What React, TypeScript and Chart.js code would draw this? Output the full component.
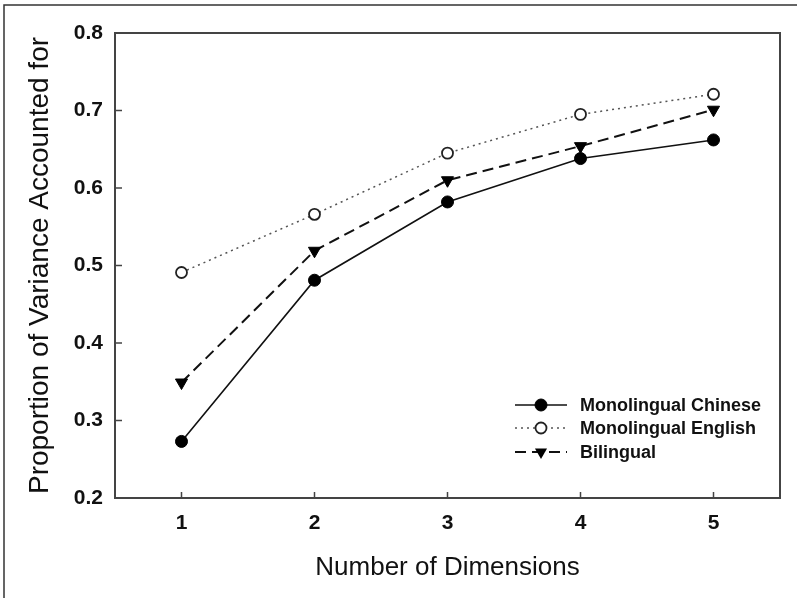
import React, { useEffect, useRef } from "react";
import { Chart, registerables } from "chart.js";

Chart.register(...registerables);

const dimensions = [1, 2, 3, 4, 5];
const monoChinese = [0.273, 0.481, 0.582, 0.638, 0.662];
const monoEnglish = [0.491, 0.566, 0.645, 0.695, 0.721];
const bilingual = [0.349, 0.519, 0.61, 0.654, 0.701];
const yTicks = [0.2, 0.3, 0.4, 0.5, 0.6, 0.7, 0.8];
const seriesNames = ["Monolingual Chinese", "Monolingual English", "Bilingual"];

const FONT = "Arial, 'Liberation Sans', sans-serif";

const framePlugin = {
  id: "frame",
  beforeDraw(chart: any) {
    const { ctx, width, height } = chart;
    ctx.save();
    ctx.fillStyle = "#ffffff";
    ctx.fillRect(0, 0, width, height);
    ctx.strokeStyle = "#333333";
    ctx.lineWidth = 1.5;
    ctx.beginPath();
    ctx.moveTo(4, height);
    ctx.lineTo(4, 5);
    ctx.lineTo(width, 5);
    ctx.stroke();
    ctx.restore();
  },
  afterDatasetsDraw(chart: any) {
    const { ctx, chartArea } = chart;
    const { left, right, top, bottom } = chartArea;
    const xs = chart.scales.x;
    const ys = chart.scales.y;
    ctx.save();
    ctx.strokeStyle = "#444444";
    ctx.lineWidth = 2;
    ctx.strokeRect(left, top, right - left, bottom - top);
    ctx.lineWidth = 1.5;
    ctx.beginPath();
    dimensions.forEach((d) => {
      const px = xs.getPixelForValue(d);
      ctx.moveTo(px, bottom);
      ctx.lineTo(px, bottom - 6);
    });
    yTicks.forEach((v) => {
      const py = ys.getPixelForValue(v);
      ctx.moveTo(left, py);
      ctx.lineTo(left + 7, py);
    });
    ctx.stroke();
    ctx.restore();
  },
  afterDraw(chart: any) {
    const { ctx } = chart;
    const rows = [405, 428, 452];
    const x0 = 515;
    const x1 = 567;
    const mx = 541;
    ctx.save();
    chart.data.datasets.forEach((ds: any, i: number) => {
      const y = rows[i];
      ctx.strokeStyle = ds.borderColor;
      ctx.lineWidth = ds.borderWidth;
      ctx.setLineDash(ds.borderDash || []);
      ctx.beginPath();
      ctx.moveTo(x0, y);
      ctx.lineTo(x1, y);
      ctx.stroke();
      ctx.setLineDash([]);
      ctx.beginPath();
      if (ds.pointStyle === "triangle") {
        const r = ds.pointRadius;
        ctx.moveTo(mx - r * 0.866, y - r * 0.5);
        ctx.lineTo(mx + r * 0.866, y - r * 0.5);
        ctx.lineTo(mx, y + r);
        ctx.closePath();
        ctx.fillStyle = ds.pointBackgroundColor;
        ctx.fill();
      } else {
        ctx.arc(mx, y, ds.pointRadius, 0, Math.PI * 2);
        ctx.fillStyle = ds.pointBackgroundColor;
        ctx.fill();
        ctx.strokeStyle = ds.pointBorderColor;
        ctx.lineWidth = ds.pointBorderWidth;
        ctx.stroke();
      }
      ctx.fillStyle = "#111111";
      ctx.font = `bold 18px ${FONT}`;
      ctx.textAlign = "left";
      ctx.textBaseline = "middle";
      ctx.fillText(seriesNames[i], 580, y + 1);
    });
    ctx.restore();
  },
};

export default function App() {
  const ref = useRef<HTMLCanvasElement>(null);
  useEffect(() => {
    document.body.style.margin = "0";
    const canvas = ref.current!;
    const toPts = (arr: number[]) => dimensions.map((d, i) => ({ x: d, y: arr[i] }));
    const chart = new Chart(canvas, {
      type: "line",
      data: {
        datasets: [
          {
            label: seriesNames[0],
            data: toPts(monoChinese),
            borderColor: "#111111",
            borderWidth: 1.6,
            pointStyle: "circle",
            pointRadius: 6,
            pointBackgroundColor: "#000000",
            pointBorderColor: "#000000",
            pointBorderWidth: 1,
          },
          {
            label: seriesNames[1],
            data: toPts(monoEnglish),
            borderColor: "#555555",
            borderWidth: 1.5,
            borderDash: [2, 4],
            pointStyle: "circle",
            pointRadius: 5.5,
            pointBackgroundColor: "#ffffff",
            pointBorderColor: "#222222",
            pointBorderWidth: 1.8,
          },
          {
            label: seriesNames[2],
            data: toPts(bilingual),
            borderColor: "#111111",
            borderWidth: 2,
            borderDash: [11, 6],
            pointStyle: "triangle",
            rotation: 180,
            pointRadius: 7,
            pointBackgroundColor: "#000000",
            pointBorderColor: "#000000",
            pointBorderWidth: 1,
          } as any,
        ],
      },
      options: {
        responsive: false,
        animation: false,
        layout: { padding: { top: 33, right: 17, left: 0, bottom: 0 } },
        plugins: {
          legend: { display: false },
          tooltip: { enabled: false },
        },
        scales: {
          x: {
            type: "linear",
            min: 0.5,
            max: 5.5,
            grid: { display: false, drawTicks: false },
            border: { display: false },
            afterBuildTicks: (s: any) => {
              s.ticks = dimensions.map((v) => ({ value: v }));
            },
            afterFit: (s: any) => {
              s.height = 100;
            },
            ticks: {
              padding: 13,
              color: "#111111",
              font: { family: FONT, size: 21, weight: "bold" },
              callback: (v: any) => String(v),
            },
            title: {
              display: true,
              text: "Number of Dimensions",
              color: "#111111",
              font: { family: FONT, size: 26, weight: "normal" },
              padding: { top: 0, bottom: 15 },
            },
          },
          y: {
            type: "linear",
            min: 0.2,
            max: 0.8,
            grid: { display: false, drawTicks: false },
            border: { display: false },
            afterBuildTicks: (s: any) => {
              s.ticks = yTicks.map((v) => ({ value: v }));
            },
            afterFit: (s: any) => {
              s.width = 115;
            },
            ticks: {
              padding: 12,
              color: "#111111",
              font: { family: FONT, size: 21, weight: "bold" },
              callback: (v: any) => Number(v).toFixed(1),
            },
            title: {
              display: true,
              text: "Proportion of Variance Accounted for",
              color: "#111111",
              font: { family: FONT, size: 28, weight: "normal" },
              padding: { top: 23, bottom: 0 },
            },
          },
        },
      },
      plugins: [framePlugin],
    });
    return () => chart.destroy();
  }, []);
  return (
    <div style={{ width: 797, height: 598 }}>
      <canvas ref={ref} width={797} height={598} style={{ display: "block" }} />
    </div>
  );
}
